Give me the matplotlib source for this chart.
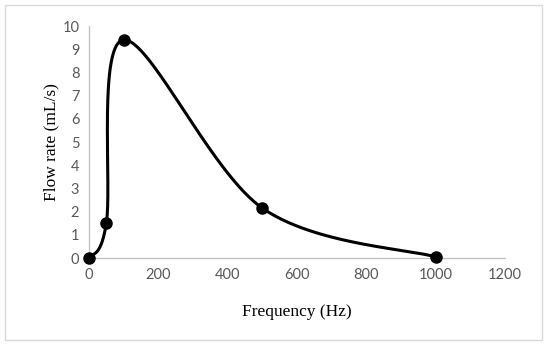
import matplotlib.pyplot as plt
import numpy as np
from matplotlib.patches import Rectangle

freq = [0, 50, 100, 500, 1000]
flow = [0.0, 1.5, 9.4, 2.15, 0.05]
x_ticks = [0, 200, 400, 600, 800, 1000, 1200]
y_ticks = list(range(0, 11))

fig = plt.figure(figsize=(5.5, 3.47), dpi=100)
ax = fig.add_axes([89 / 550, 1 - 258 / 347, (505 - 89) / 550, (258 - 26) / 347])
ax.set_xlim(0, 1200)
ax.set_ylim(0, 10)

# Excel-style smoothed line: Catmull-Rom Bezier computed in pixel space
pts = ax.transData.transform(np.column_stack([freq, flow]))
n = len(pts)
curve = []
for i in range(n - 1):
    p0 = pts[max(i - 1, 0)]
    p1 = pts[i]
    p2 = pts[i + 1]
    p3 = pts[min(i + 2, n - 1)]
    c1 = p1 + (p2 - p0) / 6
    c2 = p2 - (p3 - p1) / 6
    t = np.linspace(0, 1, 60)[:, None]
    seg = (1 - t) ** 3 * p1 + 3 * (1 - t) ** 2 * t * c1 + 3 * (1 - t) * t ** 2 * c2 + t ** 3 * p2
    curve.append(seg if i == 0 else seg[1:])
curve = ax.transData.inverted().transform(np.vstack(curve))

ax.plot(curve[:, 0], curve[:, 1], color="black", lw=2.2, solid_capstyle="round", clip_on=False)
ax.plot(freq, flow, "o", color="black", ms=8, clip_on=False, zorder=3)

ax.set_xticks(x_ticks)
ax.set_yticks(y_ticks)
for s in ["top", "right"]:
    ax.spines[s].set_visible(False)
for s in ["left", "bottom"]:
    ax.spines[s].set_color("#bfbfbf")
    ax.spines[s].set_linewidth(0.9)
ax.tick_params(length=0, pad=7, labelsize=10.5, labelcolor="#595959")
for lab in ax.get_xticklabels() + ax.get_yticklabels():
    lab.set_fontfamily("Lato")

ax.set_xlabel("Frequency (Hz)", fontfamily="Liberation Serif", fontsize=12.5, labelpad=16)
ax.set_ylabel("Flow rate (mL/s)", fontfamily="Liberation Serif", fontsize=12.5, labelpad=2)

fig.patches.append(Rectangle((5 / 550, 1 - 340 / 347), 537 / 550, 335 / 347, transform=fig.transFigure,
                             fill=False, edgecolor="#d9d9d9", lw=1))

fig.savefig("out.png", dpi=100)
